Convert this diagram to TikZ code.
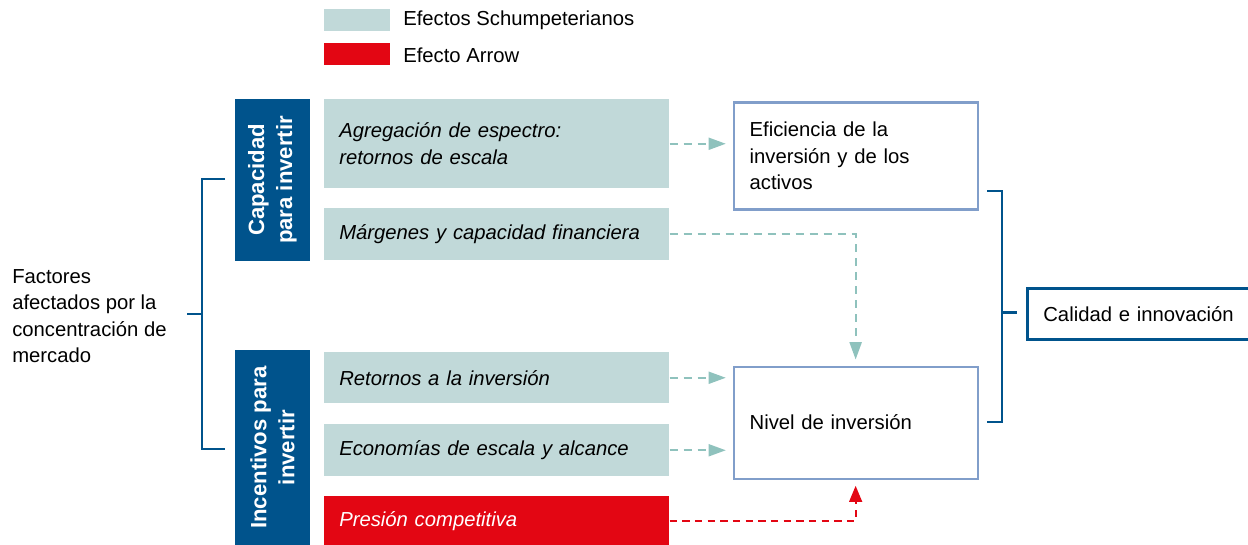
\documentclass[tikz,border=0pt]{standalone}
\usepackage{fontspec}
\setmainfont{Liberation Sans}
\usetikzlibrary{arrows.meta,calc}
\definecolor{dblue}{HTML}{00538C}
\definecolor{tealfill}{HTML}{C1D9D9}
\definecolor{tealarr}{HTML}{8FC2BD}
\definecolor{redfill}{HTML}{E30613}
\definecolor{lblue}{HTML}{819ECA}
\begin{document}
\begin{tikzpicture}[x=0.75pt,y=-0.75pt,
  every node/.style={font=\fontsize{15.2}{19.9}\selectfont},
  tbox/.style={fill=tealfill, anchor=north west, minimum width=258.75pt, text width=236.25pt, inner xsep=11.25pt, inner ysep=0pt, align=left, font=\fontsize{15.2}{19.9}\selectfont\itshape},
  rbox/.style={fill=redfill, text=white, anchor=north west, minimum width=258.75pt, text width=236.25pt, inner xsep=11.25pt, inner ysep=0pt, align=left, font=\fontsize{15.2}{19.9}\selectfont\itshape},
  lab/.style={fill=dblue, text=white, rotate=90, align=center, inner sep=0pt, minimum height=56.25pt, font=\fontsize{16.6}{21}\selectfont\bfseries},
  outbox/.style={draw=lblue, line width=1.7pt, anchor=north west, minimum width=183pt, text width=159pt, inner xsep=12pt, align=left},
  legbox/.style={anchor=north west, minimum width=49.5pt, minimum height=16.5pt, inner sep=0pt},
  legtxt/.style={anchor=west, inner sep=0pt},
  tarr/.style={draw=tealarr, line width=1.6pt, dash pattern=on 6pt off 4.5pt, -{Triangle[length=13pt,width=9pt]}},
  rarr/.style={draw=redfill, line width=1.6pt, dash pattern=on 5.5pt off 4pt, -{Triangle[length=12pt,width=9.5pt]}},
  brk/.style={draw=dblue, line width=2pt}
]
\clip (0,0) rectangle (1248,545);
\useasboundingbox (0,0) rectangle (1248,545);
% legend
\node[legbox, fill=tealfill] (leg1) at (324,9) {};
\node[legtxt] (leg1t) at (403,20.5) {Efectos Schumpeterianos};
\node[legbox, fill=redfill] (leg2) at (324,43) {};
\node[legtxt] (leg2t) at (403,55.5) {Efecto Arrow};
% vertical labels
\node[lab, minimum width=121.5pt] (cap) at (272.5,180) {Capacidad\\para invertir};
\node[lab, minimum width=146.25pt] (inc) at (272.5,447.5) {Incentivos para\\invertir};
% teal boxes
\node[tbox, minimum height=66.75pt] (b1) at (324,99) {Agregación de espectro:\\retornos de escala};
\node[tbox, minimum height=39pt] (b2) at (324,208) {Márgenes y capacidad financiera};
\node[tbox, minimum height=38.25pt] (b3) at (324,352) {Retornos a la inversión};
\node[tbox, minimum height=39pt] (b4) at (324,424) {Economías de escala y alcance};
\node[rbox, minimum height=36.75pt] (b5) at (324,496) {Presión competitiva};
% outcome boxes
\node[outbox, minimum height=80.25pt] (eff) at (732.5,101.5) {Eficiencia de la\\inversión y de los\\activos};
\node[outbox, minimum height=84pt] (niv) at (732.5,365.5) {Nivel de inversión};
\node[draw=dblue, line width=2pt, anchor=north west, minimum width=225pt, text width=201pt, inner xsep=12pt, minimum height=38.25pt, align=left] (cal) at (1026,287) {Calidad e innovación};
% left text
\node[anchor=west, align=left, inner sep=0pt] (fac) at (12,316) {Factores\\afectados por la\\concentración de\\mercado};
% arrows
\draw[tarr] (b1.east) -- ([xshift=-5pt]b1.east -| eff.west);
\draw[tarr] (b2.east) -| ([yshift=4.5pt]niv.north);
\draw[tarr] (b3.east) -- ([xshift=-5pt]b3.east -| niv.west);
\draw[tarr] (b4.east) -- ([xshift=-5pt]b4.east -| niv.west);
\draw[rarr] (b5.east) -| ([yshift=-4.5pt]niv.south);
% left bracket
\coordinate (lbt) at (225,179);
\coordinate (lbm) at (202,314);
\coordinate (lbb) at (225,449);
\coordinate (lbe) at (187,314);
\draw[brk] (lbt) -| (lbm) |- (lbb);
\draw[brk] (lbm) -- (lbe);
% right bracket
\coordinate (rbt) at (987,191);
\coordinate (rbm) at (1002,312.5);
\coordinate (rbb) at (987,422);
\coordinate (rbe) at (1017,312.5);
\draw[brk] (rbt) -| (rbm) |- (rbb);
\draw[brk] (rbm) -- (rbe);
\end{tikzpicture}
\end{document}
